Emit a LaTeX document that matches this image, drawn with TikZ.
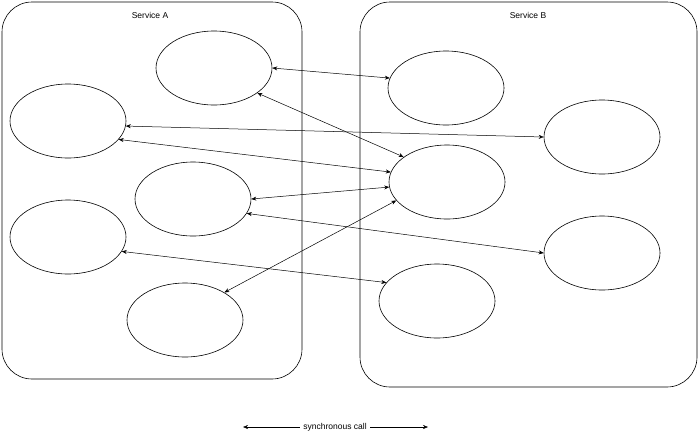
\documentclass[tikz,border=0pt]{standalone}
\usepackage{fontspec}
\setmainfont{Liberation Sans}
\usetikzlibrary{arrows.meta,shapes.geometric}
\tikzset{>={Stealth[length=5pt,width=4pt]}}
\tikzset{svc/.style={draw,rounded corners=30pt,line width=0.6pt},
         comp/.style={draw,ellipse,minimum width=116pt,minimum height=74pt,line width=0.6pt},
         call/.style={<->,line width=0.5pt}}
\begin{document}
\begin{tikzpicture}[x=1pt,y=-1pt,font=\fontsize{8.5}{10}\selectfont]
            \useasboundingbox (0,0) rectangle (700,437);
            % Services
            \draw [svc] (2,2) rectangle (302,379);
            \draw [svc] (360,2) rectangle (697,387);
            \node (la) at (150,15) {Service A};
            \node (lb) at (528,15) {Service B};

            % Components
            \node [comp] (a1) at (214,68) {};
            \node [comp] (a2) at (68,121) {};
            \node [comp] (a3) at (193,199) {};
            \node [comp] (a4) at (68,237) {};
            \node [comp] (a5) at (185,320) {};
            \node [comp] (b1) at (446,88) {};
            \node [comp] (b2) at (602,137) {};
            \node [comp] (b3) at (447,182) {};
            \node [comp] (b4) at (602,253) {};
            \node [comp] (b5) at (437,301) {};

            % Calls
            \draw [call] (a1.east) -- (b1.170);
            \draw [call] (a1.-30) -- (b3.150);
            \draw [call] (a2.-5) -- (b2.west);
            \draw [call] (a2.-20) -- (b3.170);
            \draw [call] (a3.east) -- (b3.185);
            \draw [call] (a3.-15) -- (b4.west);
            \draw [call] (a4.-15) -- (b5.160);
            \draw [call] (a5.35) -- (b3.200);

            % Legend
            \node (leg) at (335,427) {synchronous call};
            \coordinate (l0) at (243,427);
            \coordinate (l1) at (428,427);
            \draw [->] (leg.west) -- (l0);
            \draw [->] (leg.east) -- (l1);
        \end{tikzpicture}
\end{document}
